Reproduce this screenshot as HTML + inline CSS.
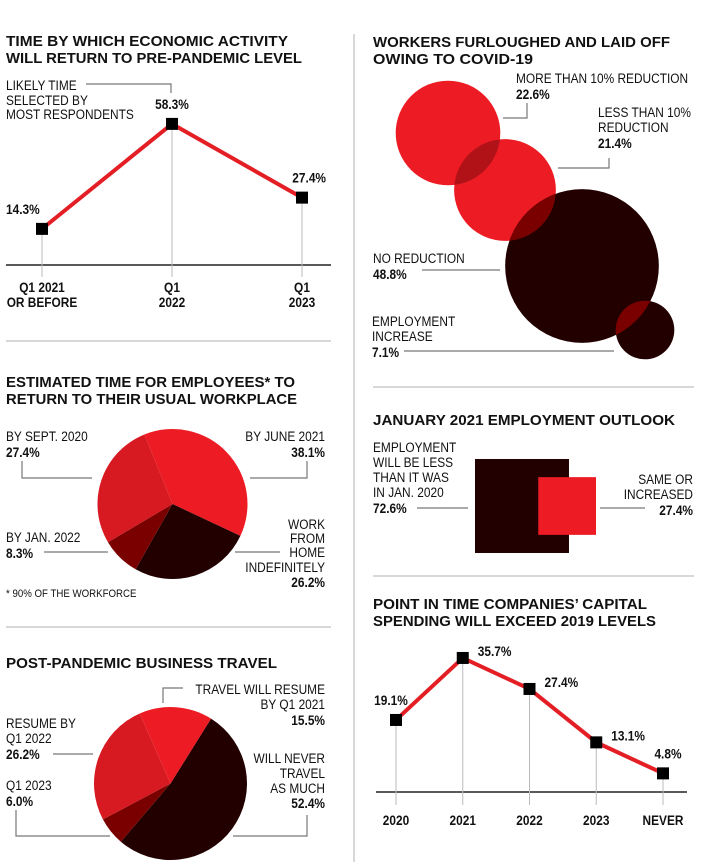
<!DOCTYPE html>
<html><head><meta charset="utf-8">
<style>
html,body{margin:0;padding:0;background:#fff;}
svg{display:block;}
text{font-family:"Liberation Sans Narrow","Liberation Sans",sans-serif;fill:#111;}
.t{font-family:"Liberation Sans",sans-serif;font-weight:bold;font-size:15px;fill:#111;}
.l{font-size:13.5px;}
.b{font-size:13.5px;font-weight:bold;}
.sep{stroke:#ccc;stroke-width:1.5;}
.cn{stroke:#777;stroke-width:1.2;fill:none;}
</style></head>
<body>
<svg id="root" width="701" height="867" viewBox="0 0 701 867" xmlns="http://www.w3.org/2000/svg">
<defs>
<clipPath id="cb1"><circle id="cc1" cx="0" cy="0" r="0"/></clipPath>
<clipPath id="cb2"><circle id="cc2" cx="0" cy="0" r="0"/></clipPath>
<clipPath id="cb3"><circle id="cc3" cx="0" cy="0" r="0"/></clipPath>
</defs>
<line class="sep" x1="354" y1="34" x2="354" y2="862"/>
<line class="sep" x1="6" y1="341" x2="331" y2="341"/>
<line class="sep" x1="6" y1="627" x2="331" y2="627"/>
<line class="sep" x1="373" y1="387" x2="694" y2="387"/>
<line class="sep" x1="373" y1="576" x2="694" y2="576"/>

<g>
<text class="t" x="6" y="46" textLength="282" lengthAdjust="spacingAndGlyphs">TIME BY WHICH ECONOMIC ACTIVITY</text>
<text class="t" x="6" y="63" textLength="296" lengthAdjust="spacingAndGlyphs">WILL RETURN TO PRE-PANDEMIC LEVEL</text>
<text class="l" x="6" y="90">LIKELY TIME</text>
<text class="l" x="6" y="105">SELECTED BY</text>
<text class="l" x="6" y="119">MOST RESPONDENTS</text>
<polyline class="cn" points="86,84 171,84 171,93"/>
<line x1="6" y1="265" x2="331" y2="265" stroke="#222" stroke-width="1.5"/>
<g id="c1"></g>
</g>

<g>
<text class="t" x="6" y="387" textLength="289" lengthAdjust="spacingAndGlyphs">ESTIMATED TIME FOR EMPLOYEES* TO</text>
<text class="t" x="6" y="404" textLength="291" lengthAdjust="spacingAndGlyphs">RETURN TO THEIR USUAL WORKPLACE</text>
<g id="p1"></g>
<text class="l" x="6" y="441">BY SEPT. 2020</text>
<text class="b" x="6" y="457">27.4%</text>
<polyline class="cn" points="22,461 22,478 92,478"/>
<text class="l" x="325" y="441" text-anchor="end">BY JUNE 2021</text>
<text class="b" x="325" y="457" text-anchor="end">38.1%</text>
<polyline class="cn" points="250,478 307,478 307,461"/>
<text class="l" x="6" y="542">BY JAN. 2022</text>
<text class="b" x="6" y="558">8.3%</text>
<line class="cn" x1="44" y1="552" x2="108" y2="552"/>
<text class="l" x="325" y="529" text-anchor="end">WORK</text>
<text class="l" x="325" y="543" text-anchor="end">FROM</text>
<text class="l" x="325" y="557" text-anchor="end">HOME</text>
<text class="l" x="325" y="572" text-anchor="end">INDEFINITELY</text>
<text class="b" x="325" y="587" text-anchor="end">26.2%</text>
<line class="cn" x1="235" y1="552" x2="280" y2="552"/>
<text class="l" x="6" y="597" style="font-size:11px">* 90% OF THE WORKFORCE</text>
</g>

<g>
<text class="t" x="6" y="668" textLength="271" lengthAdjust="spacingAndGlyphs">POST-PANDEMIC BUSINESS TRAVEL</text>
<g id="p2"></g>
<text class="l" x="325" y="694" text-anchor="end">TRAVEL WILL RESUME</text>
<text class="l" x="325" y="709" text-anchor="end">BY Q1 2021</text>
<text class="b" x="325" y="725" text-anchor="end">15.5%</text>
<polyline class="cn" points="183,688 163,688 163,703"/>
<text class="l" x="6" y="728">RESUME BY</text>
<text class="l" x="6" y="743">Q1 2022</text>
<text class="b" x="6" y="759">26.2%</text>
<line class="cn" x1="53" y1="754" x2="93" y2="754"/>
<text class="l" x="6" y="790">Q1 2023</text>
<text class="b" x="6" y="806">6.0%</text>
<polyline class="cn" points="16,810 16,836 110,836"/>
<text class="l" x="325" y="763" text-anchor="end">WILL NEVER</text>
<text class="l" x="325" y="778" text-anchor="end">TRAVEL</text>
<text class="l" x="325" y="793" text-anchor="end">AS MUCH</text>
<text class="b" x="325" y="808" text-anchor="end">52.4%</text>
<polyline class="cn" points="233,836 307,836 307,815"/>
</g>

<g>
<text class="t" x="373" y="47" textLength="297" lengthAdjust="spacingAndGlyphs">WORKERS FURLOUGHED AND LAID OFF</text>
<text class="t" x="373" y="64" textLength="160" lengthAdjust="spacingAndGlyphs">OWING TO COVID-19</text>
<g id="bub"></g>
<text class="l" x="516" y="83">MORE THAN 10% REDUCTION</text>
<text class="b" x="516" y="99">22.6%</text>
<polyline class="cn" points="503,118 527,118 527,103"/>
<text class="l" x="598" y="117">LESS THAN 10%</text>
<text class="l" x="598" y="132">REDUCTION</text>
<text class="b" x="598" y="148">21.4%</text>
<polyline class="cn" points="558,168 609,168 609,158"/>
<text class="l" x="373" y="263">NO REDUCTION</text>
<text class="b" x="373" y="279">48.8%</text>
<line class="cn" x1="422" y1="270" x2="500" y2="270"/>
<text class="l" x="372" y="326">EMPLOYMENT</text>
<text class="l" x="372" y="341">INCREASE</text>
<text class="b" x="372" y="357">7.1%</text>
<line class="cn" x1="404" y1="351" x2="614" y2="351"/>
</g>

<g>
<text class="t" x="373" y="425" textLength="302" lengthAdjust="spacingAndGlyphs">JANUARY 2021 EMPLOYMENT OUTLOOK</text>
<g id="sq"></g>
<text class="l" x="373" y="452">EMPLOYMENT</text>
<text class="l" x="373" y="467">WILL BE LESS</text>
<text class="l" x="373" y="482">THAN IT WAS</text>
<text class="l" x="373" y="497">IN JAN. 2020</text>
<text class="b" x="373" y="513">72.6%</text>
<line class="cn" x1="417" y1="508" x2="468" y2="508"/>
<text class="l" x="693" y="484" text-anchor="end">SAME OR</text>
<text class="l" x="693" y="499" text-anchor="end">INCREASED</text>
<text class="b" x="693" y="515" text-anchor="end">27.4%</text>
<line class="cn" x1="600" y1="508" x2="645" y2="508"/>
</g>

<g>
<text class="t" x="373" y="609" textLength="274" lengthAdjust="spacingAndGlyphs">POINT IN TIME COMPANIES’ CAPITAL</text>
<text class="t" x="373" y="626" textLength="283" lengthAdjust="spacingAndGlyphs">SPENDING WILL EXCEED 2019 LEVELS</text>
<line x1="376" y1="792" x2="687" y2="792" stroke="#222" stroke-width="1.5"/>
<g id="c6"></g>
</g>
</svg>
<script>
const NS="http://www.w3.org/2000/svg";
// Chart 1 data
const c1Categories=[["Q1 2021","OR BEFORE"],["Q1","2022"],["Q1","2023"]];
const c1Values=[14.3,58.3,27.4];
const c1Labels=["14.3%","58.3%","27.4%"];
// Chart 2 pie data
const p1Names=["by-june-2021","work-from-home","by-jan-2022","by-sept-2020"];
const p1Values=[38.1,26.2,8.3,27.4];
// Chart 3 pie data
const p2Names=["will-never-travel","q1-2023","resume-by-q1-2022","resume-by-q1-2021"];
const p2Values=[52.4,6.0,26.2,15.5];
// Chart 4 bubbles
const bubNames=["more-than-10pct","less-than-10pct","no-reduction","employment-increase"];
const bubValues=[22.6,21.4,48.8,7.1];
// Chart 5 squares
const sqNames=["employment-less","same-or-increased"];
const sqValues=[72.6,27.4];
// Chart 6 data
const c6Categories=["2020","2021","2022","2023","NEVER"];
const c6Values=[19.1,35.7,27.4,13.1,4.8];
const c6Labels=["19.1%","35.7%","27.4%","13.1%","4.8%"];

function mk(tag,attrs,parent){const e=document.createElementNS(NS,tag);for(const k in attrs)e.setAttribute(k,attrs[k]);parent.appendChild(e);return e;}
const RED="#e31e24";

(function(){
  const g=document.getElementById('c1');
  const x=i=>42+i*130, y=v=>263-v*2.386;
  const pts=c1Values.map((v,i)=>x(i)+","+y(v)).join(" ");
  c1Values.forEach((v,i)=>{const l=mk('line',{x1:x(i),y1:y(v),x2:x(i),y2:277,stroke:"#bbb","stroke-width":1},g);
    
    });
  const pl=mk('polyline',{points:pts,fill:"none",stroke:RED,"stroke-width":4},g);
  
  
  c1Values.forEach((v,i)=>{
    const r=mk('rect',{x:x(i)-6,y:y(v)-6,width:12,height:12,fill:"#000"},g);
    
    
    let tx=x(i),anchor="middle";
    if(i===0){tx=6;anchor="start";} if(i===2){tx=326;anchor="end";}
    const t=mk('text',{x:tx,y:y(v)-15,"text-anchor":anchor,"class":"b"},g);t.textContent=c1Labels[i];
    
    
    c1Categories[i].forEach((s,j)=>{const c=mk('text',{x:x(i),y:292+j*15,"text-anchor":"middle","class":"b"},g);c.textContent=s;
      
      });
  });
})();

function pie(id,vals,names,cx,cy,r,start,colors){
  const g=document.getElementById(id);let a=start;
  const tot=vals.reduce((s,v)=>s+v,0);
  vals.forEach((v,i)=>{
    const a2=a+v/tot*360;
    const p=d=>[cx+r*Math.sin(d*Math.PI/180),cy-r*Math.cos(d*Math.PI/180)];
    const [x1,y1]=p(a),[x2,y2]=p(a2);
    const path=mk('path',{d:`M${cx},${cy}L${x1},${y1}A${r},${r} 0 ${a2-a>180?1:0} 1 ${x2},${y2}Z`,fill:colors[i]},g);
    
    
    a=a2;
  });
}
pie('p1',p1Values,p1Names,172.5,504,75,-22,["#ed1c24","#230000","#7a0000","#d71a21"]);
pie('p2',p2Values,p2Names,170.5,783.5,76.5,32,["#230000","#7a0000","#d71a21","#ed1c24"]);

(function(){
  const g=document.getElementById('bub');
  const centers=[[448,133],[505,190],[582,266],[645,330]];
  const cols=["#ed1c24","#ed1c24","#230000","#230000"];
  const rr=bubValues.map(v=>11*Math.sqrt(v));
  bubValues.forEach((v,i)=>{
    const c=mk('circle',{cx:centers[i][0],cy:centers[i][1],r:rr[i],fill:cols[i]},g);
    
    
    if(i<3){const cc=document.getElementById('cc'+(i+1));cc.setAttribute('cx',centers[i][0]);cc.setAttribute('cy',centers[i][1]);cc.setAttribute('r',rr[i]);}
  });
  const ov=["#b01218","#7a0000","#7a0000"];
  for(let i=1;i<4;i++){
    const o=mk('circle',{cx:centers[i][0],cy:centers[i][1],r:rr[i],fill:ov[i-1],"clip-path":"url(#cb"+i+")"},g);
    
    
  }
})();

(function(){
  const g=document.getElementById('sq');
  const s=sqValues.map(v=>11.03*Math.sqrt(v));
  const cy=506;
  const a=mk('rect',{x:475,y:cy-s[0]/2,width:s[0],height:s[0],fill:"#230000"},g);
  
  
  const b=mk('rect',{x:596-s[1],y:cy-s[1]/2,width:s[1],height:s[1],fill:"#ed1c24"},g);
  
  
})();

(function(){
  const g=document.getElementById('c6');
  const x=i=>396+i*66.75, y=v=>791.3-v*3.735;
  c6Values.forEach((v,i)=>{const l=mk('line',{x1:x(i),y1:y(v),x2:x(i),y2:805,stroke:"#bbb","stroke-width":1},g);
    
    });
  const pl=mk('polyline',{points:c6Values.map((v,i)=>x(i)+","+y(v)).join(" "),fill:"none",stroke:RED,"stroke-width":4},g);
  
  
  c6Values.forEach((v,i)=>{
    const r=mk('rect',{x:x(i)-6,y:y(v)-6,width:12,height:12,fill:"#000"},g);
    
    
    let tx,ty,anchor;
    if(i===0){tx=x(i)-5;ty=y(v)-15;anchor="middle";}
    else if(i===4){tx=x(i)+5;ty=y(v)-15;anchor="middle";}
    else {tx=x(i)+15;ty=y(v)-2;anchor="start";}
    const t=mk('text',{x:tx,y:ty,"text-anchor":anchor,"class":"b"},g);t.textContent=c6Labels[i];
    
    
    const c=mk('text',{x:x(i),y:825,"text-anchor":"middle","class":"b"},g);c.textContent=c6Categories[i];
    
    
  });
})();

// condense label text to mimic a narrow typeface
document.querySelectorAll('text.l, text.b').forEach(t=>{
  const w=t.getComputedTextLength();
  if(w>0){t.setAttribute('textLength',(w*0.88).toFixed(1));t.setAttribute('lengthAdjust','spacingAndGlyphs');}
});
</script>
</body></html>
